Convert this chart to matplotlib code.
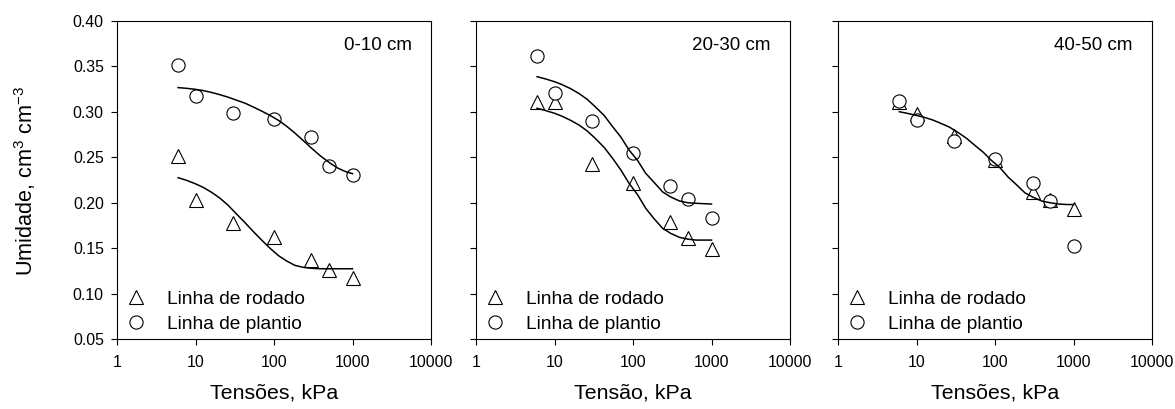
import matplotlib
matplotlib.use("Agg")
import matplotlib.pyplot as plt

plt.rcParams['font.family'] = ['Liberation Sans', 'DejaVu Sans']
plt.rcParams['mathtext.default'] = 'regular'

# ---- data ----
tensoes = [6, 10, 30, 100, 300, 500, 1000]

p1_rodado = [0.251, 0.203, 0.178, 0.162, 0.137, 0.126, 0.117]
p1_plantio = [0.351, 0.317, 0.299, 0.292, 0.272, 0.240, 0.230]
p2_rodado = [0.311, 0.311, 0.243, 0.222, 0.179, 0.161, 0.149]
p2_plantio = [0.361, 0.321, 0.290, 0.255, 0.218, 0.2045, 0.1836]
p3_rodado = [0.311, 0.298, 0.273, 0.247, 0.212, 0.203, 0.193]
p3_plantio = [0.312, 0.291, 0.268, 0.248, 0.222, 0.202, 0.152]

# fitted curves, values
fit_x = [6, 7.5, 10, 12.6, 16, 20.5, 26, 33, 43, 55, 70, 89, 115, 145, 185,
         238, 300, 390, 500, 635, 800, 1000]
p1_fit_plantio = [0.3265, 0.3258, 0.3246, 0.3232, 0.3212, 0.3187, 0.3160, 0.3128,
                  0.3093, 0.3050, 0.3006, 0.2960, 0.2903, 0.2840, 0.2765, 0.2680,
                  0.2600, 0.2515, 0.2445, 0.2385, 0.2345, 0.2320]
p1_fit_rodado = [0.2275, 0.2250, 0.2208, 0.2168, 0.2115, 0.2050, 0.1973, 0.1880,
                 0.1779, 0.1680, 0.1588, 0.1500, 0.1417, 0.1360, 0.1312, 0.1290,
                 0.1280, 0.1275, 0.1275, 0.1275, 0.1275, 0.1275]
p2_fit_plantio = [0.3385, 0.3363, 0.3330, 0.3296, 0.3254, 0.3200, 0.3137, 0.3055,
                  0.2958, 0.2836, 0.2722, 0.2580, 0.2462, 0.2324, 0.2225, 0.2120,
                  0.2065, 0.2020, 0.2000, 0.1994, 0.1990, 0.1986]
p2_fit_rodado = [0.3038, 0.3016, 0.2983, 0.2949, 0.2906, 0.2854, 0.2790, 0.2708,
                 0.2607, 0.2488, 0.2360, 0.2214, 0.2085, 0.1940, 0.1826, 0.1720,
                 0.1665, 0.1620, 0.1600, 0.1590, 0.1590, 0.1590]
p3_fit = [0.3000, 0.2983, 0.2959, 0.2937, 0.2909, 0.2870, 0.2831, 0.2776,
          0.2708, 0.2630, 0.2556, 0.2466, 0.2384, 0.2284, 0.2200, 0.2110,
          0.2062, 0.2019, 0.2000, 0.1986, 0.1981, 0.1980]

panel_labels = ["0-10 cm", "20-30 cm", "40-50 cm"]
xlabels = ["Tensões, kPa", "Tensão, kPa", "Tensões, kPa"]
ylabel = 'Umidade, cm$^{3}$ cm$^{-3}$'
legend_labels = ["Linha de rodado", "Linha de plantio"]
xticks = [1, 10, 100, 1000, 10000]
xtick_labels = ["1", "10", "100", "1000", "10000"]
yticks = [0.05, 0.10, 0.15, 0.20, 0.25, 0.30, 0.35, 0.40]

panels = [
    (p1_rodado, p1_plantio, [p1_fit_plantio, p1_fit_rodado]),
    (p2_rodado, p2_plantio, [p2_fit_plantio, p2_fit_rodado]),
    (p3_rodado, p3_plantio, [p3_fit]),
]

W, H = 1175, 409
fig = plt.figure(figsize=(W / 100, H / 100), dpi=100)
lefts = [117, 476, 838.3]
ax_w = 314
ax_top, ax_bot = 20.7, 339.3

ms = 9.5
for i, (rod, pla, fits) in enumerate(panels):
    ax = fig.add_axes([lefts[i] / W, 1 - ax_bot / H, ax_w / W, (ax_bot - ax_top) / H])
    ax.set_xscale('log')
    ax.set_xlim(1, 10000)
    ax.set_ylim(0.05, 0.40)
    ax.plot(tensoes, rod, linestyle='none', marker='^', ms=ms + 0.5, mfc='white',
            mec='black', mew=0.8, label=legend_labels[0], zorder=3)
    ax.plot(tensoes, pla, linestyle='none', marker='o', ms=ms, mfc='white',
            mec='black', mew=0.8, label=legend_labels[1], zorder=4)
    for f in fits:
        ax.plot(fit_x, f, color='black', lw=1.1, zorder=5)
    ax.set_xticks(xticks)
    ax.set_xticklabels(xtick_labels)
    ax.minorticks_off()
    ax.set_yticks(yticks)
    if i == 0:
        ax.set_yticklabels([f"{v:.2f}" for v in yticks])
    else:
        ax.tick_params(axis='y', labelleft=False)
    ax.tick_params(axis='both', direction='out', length=4, width=0.8,
                   labelsize=11.4, pad=5.5, colors='black')
    ax.tick_params(axis='x', pad=7)
    for s in ax.spines.values():
        s.set_linewidth(0.8)
    ax.set_xlabel(xlabels[i], fontsize=15.4, labelpad=10)
    ax.text(0.9385, 0.921, panel_labels[i], transform=ax.transAxes,
            ha='right', va='center', fontsize=13.5)
    ax.legend(loc='lower left', bbox_to_anchor=(0.03, 0.02), frameon=False,
              fontsize=13.75, handlelength=1.0, handletextpad=1.1,
              borderpad=0, labelspacing=0.4, borderaxespad=0)

fig.text(25 / W, 1 - 181 / H, ylabel, rotation=90,
         ha='center', va='center', fontsize=15.6)

fig.savefig('out.png', dpi=100)
